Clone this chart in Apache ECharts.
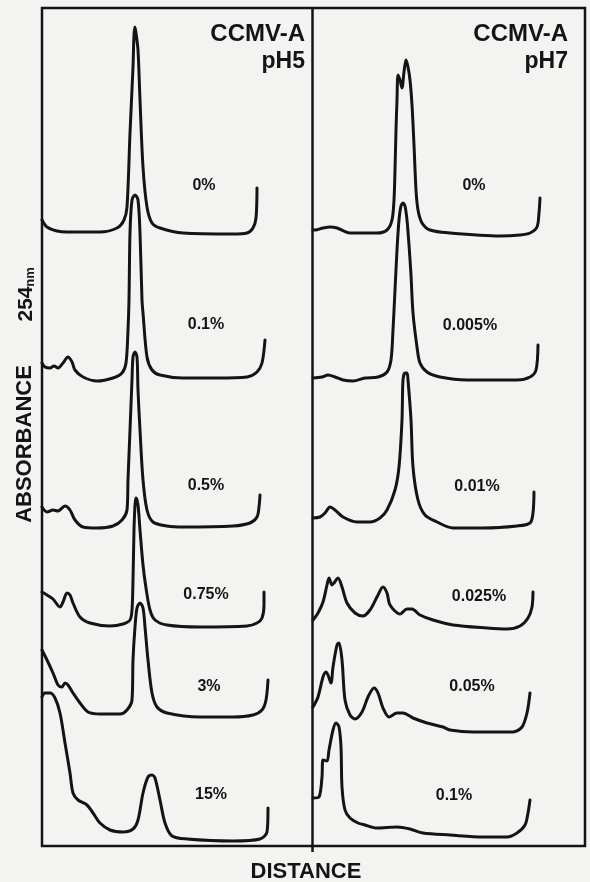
<!DOCTYPE html>
<html><head><meta charset="utf-8">
<script src="https://cdn.jsdelivr.net/npm/echarts@6/dist/echarts.min.js"></script>
<style>html,body{margin:0;padding:0;background:#f3f3f1}#c{width:590px;height:882px}</style>
</head><body><div id="c"></div>
<script>
// Distance (arbitrary units, 0..272 across a panel) vs relative absorbance at 254 nm
const ph5_0 = [[0,7],[5,3.5],[15,1.5],[25,1],[58,1],[75,3],[82,7],[85,13.5],[88,50.5],[91,83.5],[92,99.5],[93,103.5],[94,100.5],[96,92],[98,67],[101,33.5],[105,13.5],[110,5.5],[118,3],[141,0.5],[191,0],[205,0.5],[211,3],[214,8],[215,23]];
const ph5_01 = [[0,9],[3,7],[8,6.5],[12,7.5],[16,6.5],[21,9],[26,12],[30,9.5],[33,5.5],[41,2],[55,0],[71,1.5],[80,4],[84,9],[86,25.5],[87,40.5],[88,74],[90,90.5],[93,93],[96,90.5],[98,74],[100,40.5],[101,34],[105,12],[110,5.5],[118,3],[141,1.5],[175,1.5],[205,2],[215,4.5],[220,9],[223,20.5]];
const ph5_05 = [[0,10.5],[5,8],[11,9],[16,8.5],[23,11],[28,9],[33,4],[41,0.5],[55,0],[71,1],[80,4],[85,9],[86,24],[88,49],[90,74],[91,85.5],[93,88],[95,85.5],[96,69],[98,49],[101,24],[105,9],[111,3],[125,1],[141,0.5],[191,1],[208,2.5],[215,5.5],[217,10.5],[218,16.5]];
const ph5_075 = [[0,17.5],[5,16],[11,14],[18,10],[21,12.5],[25,17],[28,16],[31,12],[38,5],[48,2],[68,0.5],[81,1.5],[88,3.5],[90,8.5],[91,23.5],[92,48.5],[93,61],[94,64.5],[96,61],[98,48.5],[101,31],[104,19.5],[108,8.5],[113,3.5],[125,1],[158,0],[205,0.5],[215,2],[220,4.5],[222,11],[222,17.5]];
const ph5_3 = [[0,33.5],[5,28.5],[11,22],[16,16],[20,15],[23,17],[26,16],[31,12],[38,7],[46,2.5],[58,1.5],[78,1.5],[85,3.5],[90,8.5],[91,28.5],[93,45],[95,54.5],[98,57],[101,54.5],[103,45],[106,28.5],[110,12],[115,5],[125,2],[158,0],[191,0],[211,1],[220,3.5],[224,8.5],[226,18.5]];
const ph5_15 = [[0,72],[3,74],[8,74],[13,71.5],[18,64],[23,49],[28,34],[31,24],[36,20.5],[45,18],[51,14],[58,9],[68,5.5],[81,4.5],[91,6],[96,10.5],[101,24],[106,32],[110,33],[113,31.5],[118,20.5],[123,9],[130,2.5],[145,1],[191,0],[218,1],[225,4.5],[226,16.5]];

const ph7_0 = [[0,3],[2,3],[10,4],[17,4.5],[24,4],[37,1.5],[64,1.5],[74,3],[79,8],[81,18],[82,33],[83,53],[84,68],[85,80.5],[87,78],[89,74],[91,82],[93,88],[95,84.5],[97,78],[99,65.5],[101,45.5],[103,23],[105,13],[109,6.5],[117,3],[137,1.5],[187,0],[207,0.5],[217,1.5],[224,4.5],[226,11.5],[227,19]];
const ph7_0005 = [[0,1.5],[9,2],[15,3],[22,2],[30,0.5],[40,0],[52,1.5],[65,2],[74,4.5],[78,10.5],[80,25.5],[82,45.5],[84,65.5],[86,80.5],[88,87.5],[90,89],[92,87.5],[94,80.5],[96,68],[98,53],[100,34],[104,17],[107,9],[114,4.5],[127,2],[154,0.5],[204,0.5],[217,2],[223,5.5],[225,18]];
const ph7_001 = [[0,5],[7,5.5],[12,7.5],[17,10.5],[22,9],[30,5.5],[44,3],[57,3],[67,5],[74,9],[82,19],[86,30.5],[89,54],[90,74],[92,77.5],[94,77.5],[95,74],[98,54],[100,30.5],[105,14],[112,6.5],[124,3],[140,0],[170,0],[204,1],[217,2.5],[220,7.5],[221,18]];
const ph7_0025 = [[0,4.5],[5,8],[10,13.5],[14,22],[16,25.5],[19,22],[21,23],[25,25.5],[29,21],[34,13],[42,8],[50,6.5],[57,9.5],[64,16],[70,21],[74,18],[77,12],[87,7.5],[94,10],[99,10],[107,7],[120,4.5],[140,2],[174,0.5],[194,0],[207,1.5],[215,5.5],[219,11],[220,18.5]];
const ph7_005 = [[0,13],[5,18],[10,28],[13,30.5],[15,29],[18,25],[20,33],[24,44],[26,45],[29,36.5],[32,16.5],[37,9],[42,7],[49,10.5],[55,18],[61,22.5],[65,20],[70,12.5],[76,8],[84,10],[90,10],[100,7.5],[114,5],[130,3],[137,1.5],[160,0.5],[200,0.5],[209,3],[214,10],[217,20]];
const ph7_01 = [[0,19.5],[6,20],[9,30],[10,38.5],[14,38],[16,43.5],[20,53.5],[23,57],[26,55],[28,45],[29,25],[32,13.5],[37,9.5],[45,7],[52,6],[64,4.5],[84,5],[97,4],[110,2],[137,1],[170,0],[194,0],[204,2],[212,6],[215,12],[217,18.5]];

const ph5Labels = ['0%','0.1%','0.5%','0.75%','3%','15%'];
const ph7Labels = ['0%','0.005%','0.01%','0.025%','0.05%','0.1%'];
const ph5Traces = [ph5_0, ph5_01, ph5_05, ph5_075, ph5_3, ph5_15];
const ph7Traces = [ph7_0, ph7_0005, ph7_001, ph7_0025, ph7_005, ph7_01];
const panelTitles = ['CCMV-A\npH5', 'CCMV-A\npH7'];

// ---- layout (pixels) ----
const FONT = '"Liberation Sans", Arial, Helvetica, sans-serif';
const INK = '#141414';
const panels = [
  {left: 42, traces: ph5Traces, labels: ph5Labels, base: [234,381,528,627,717,841], lab: [[204,186],[206,325],[206,486],[206,595],[209,687],[211,795]], titleRight: 305},
  {left: 313, traces: ph7Traces, labels: ph7Labels, base: [236,381,528,629,733,837], lab: [[474,186],[470,326],[477,487],[479,597],[472,687],[454,796]], titleRight: 568}
];

const grids = [], xAxes = [], yAxes = [], series = [], graphic = [];
panels.forEach((p, pi) => {
  p.traces.forEach((tr, ti) => {
    const idx = grids.length;
    grids.push({left: p.left, width: 272, top: p.base[ti] - 230, height: 240});
    xAxes.push({type: 'value', gridIndex: idx, min: 0, max: 272, show: false});
    yAxes.push({type: 'value', gridIndex: idx, min: -5, max: 115, show: false});
    series.push({type: 'line', xAxisIndex: idx, yAxisIndex: idx, data: tr, showSymbol: false, smooth: 0.3, clip: false,
      lineStyle: {color: INK, width: 3, cap: 'round', join: 'round'}, silent: true});
    graphic.push({type: 'text', x: p.lab[ti][0], y: p.lab[ti][1],
      style: {text: p.labels[ti], font: 'bold 16px ' + FONT, fill: INK, align: 'center', verticalAlign: 'middle'}});
  });
  const t = panelTitles[pi].split('\n');
  graphic.push({type: 'text', x: p.titleRight, y: 34, style: {text: t[0], font: 'bold 24px ' + FONT, fill: INK, align: 'right', verticalAlign: 'middle'}});
  graphic.push({type: 'text', x: p.titleRight, y: 62, style: {text: t[1], font: 'bold 23px ' + FONT, fill: INK, align: 'right', verticalAlign: 'middle'}});
});

// frame
graphic.push({type: 'rect', shape: {x: 42, y: 8, width: 543, height: 838}, style: {fill: null, stroke: INK, lineWidth: 2.5}});
graphic.push({type: 'line', shape: {x1: 312.5, y1: 8, x2: 312.5, y2: 852}, style: {stroke: INK, lineWidth: 2.5}});
// axis titles
graphic.push({type: 'text', x: 25, y: 444, rotation: Math.PI / 2,
  style: {text: 'ABSORBANCE', font: 'bold 22px ' + FONT, fill: INK, align: 'center', verticalAlign: 'middle'}});
graphic.push({type: 'text', x: 26, y: 304, rotation: Math.PI / 2,
  style: {text: '254', font: 'bold 21px ' + FONT, fill: INK, align: 'center', verticalAlign: 'middle'}});
graphic.push({type: 'text', x: 30, y: 277, rotation: Math.PI / 2,
  style: {text: 'nm', font: 'bold 13px ' + FONT, fill: INK, align: 'center', verticalAlign: 'middle'}});
graphic.push({type: 'text', x: 306, y: 872,
  style: {text: 'DISTANCE', font: 'bold 22px ' + FONT, fill: INK, align: 'center', verticalAlign: 'middle'}});

const chart = echarts.init(document.getElementById('c'), null, {renderer: 'canvas'});
chart.setOption({
  backgroundColor: '#f3f3f1',
  animation: false,
  grid: grids, xAxis: xAxes, yAxis: yAxes, series: series,
  graphic: graphic
});
</script></body></html>
